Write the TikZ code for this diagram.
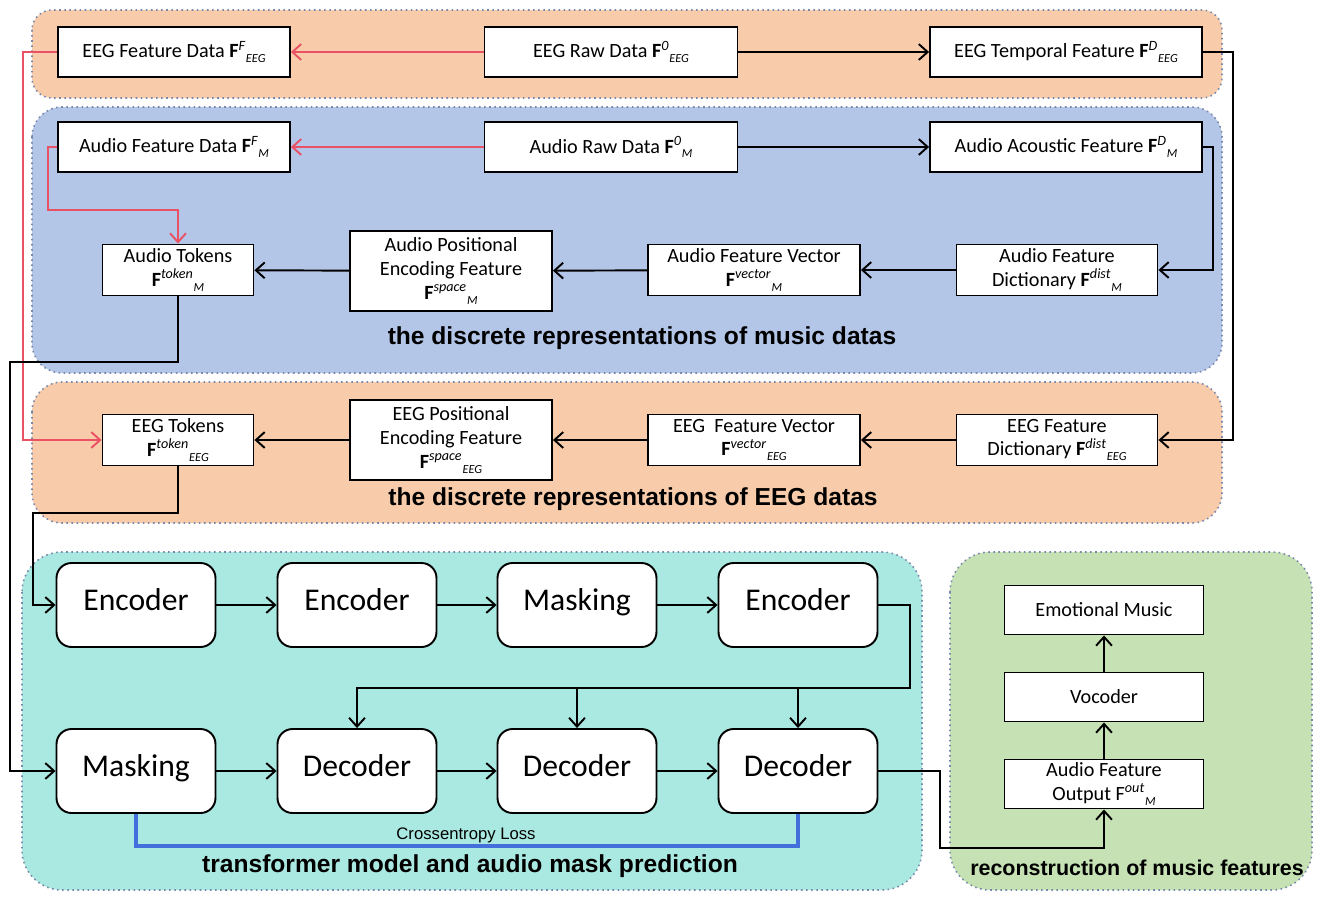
\documentclass[tikz,border=0pt]{standalone}
\usepackage{fontspec}
\setmainfont{Carlito}
\newfontfamily\titlefont{Liberation Sans}
\usetikzlibrary{arrows.meta}
\definecolor{eegfill}{RGB}{248,204,170}
\definecolor{musfill}{RGB}{180,198,232}
\definecolor{tffill}{RGB}{170,233,225}
\definecolor{recfill}{RGB}{198,226,180}
\definecolor{panelline}{RGB}{120,136,170}
\definecolor{redline}{RGB}{232,82,100}
\definecolor{lossblue}{RGB}{68,110,220}
\newcommand{\Fsym}[2]{\textbf{F}\textsuperscript{\itshape #1}\raisebox{-0.5ex}{\scriptsize\itshape #2}}
\tikzset{
    databox/.style = {rectangle, line width=1.1pt, draw=black, fill=white, align=center, inner sep=1pt, minimum height=1.0cm, font=\fontsize{11.5}{13.5}\selectfont},
    tfbox/.style = {rectangle, rounded corners=0.3cm, line width=1.1pt, draw=black, fill=white, minimum width=3.18cm, minimum height=1.68cm, text height=0.8em, text depth=0.2em, font=\fontsize{18}{20}\selectfont},
    panel/.style = {dotted, draw=panelline, line width=0.9pt},
    title/.style = {font=\titlefont\bfseries\fontsize{14}{16}\selectfont},
    edgen/.style = {-{Straight Barb[length=5pt,width=9pt]}, line width=1.1pt},
    edger/.style = {-{Straight Barb[length=5pt,width=9pt]}, line width=1.1pt, redline},
    edgeb/.style = {line width=2.3pt, lossblue}
}
\begin{document}
\begin{tikzpicture}[x=0.02cm,y=-0.02cm]
\useasboundingbox (0,0) rectangle (1325,900);
% background panels
\draw[panel, fill=eegfill, rounded corners=0.4cm] (32,10) rectangle (1222,98);
\draw[panel, fill=musfill, rounded corners=0.6cm] (32,107) rectangle (1222,373);
\draw[panel, fill=eegfill, rounded corners=0.6cm] (32,382) rectangle (1222,523);
\draw[panel, fill=tffill, rounded corners=0.8cm] (22,552) rectangle (922,890);
\draw[panel, fill=recfill, rounded corners=0.8cm] (950,552) rectangle (1312,890);

% raw data rows
\node[databox, minimum width=4.64cm] at (174,52) (efd) {EEG Feature Data \Fsym{F}{EEG}};
\node[databox, minimum width=5.06cm] at (611,52) (eraw) {EEG Raw Data \Fsym{0}{EEG}};
\node[databox, minimum width=5.44cm] at (1066,52) (etmp) {EEG Temporal Feature \Fsym{D}{EEG}};
\node[databox, minimum width=4.64cm] at (174,147) (afd) {Audio Feature Data \Fsym{F}{M}};
\node[databox, minimum width=5.06cm] at (611,147) (araw) {Audio Raw Data \Fsym{0}{M}};
\node[databox, minimum width=5.44cm] at (1066,147) (aac) {Audio Acoustic Feature \Fsym{D}{M}};

% discrete representations, music
\node[databox, minimum width=3.02cm, minimum height=1.02cm] at (178,270) (atok) {Audio Tokens\\\Fsym{token}{M}};
\node[databox, minimum width=4.04cm, minimum height=1.6cm] at (451,271) (apos) {Audio Positional\\Encoding Feature\\\Fsym{space}{M}};
\node[databox, minimum width=4.24cm, minimum height=1.02cm] at (754,270) (avec) {Audio Feature Vector\\\Fsym{vector}{M}};
\node[databox, minimum width=4.02cm, minimum height=1.02cm] at (1057,270) (adic) {Audio Feature\\Dictionary \Fsym{dist}{M}};
\node[title] at (642,338) (mtitle) {the discrete representations of music datas};

% discrete representations, EEG
\node[databox, minimum width=3.02cm, minimum height=1.02cm] at (178,440) (etok) {EEG Tokens\\\Fsym{token}{EEG}};
\node[databox, minimum width=4.04cm, minimum height=1.6cm] at (451,440) (epos) {EEG Positional\\Encoding Feature\\\Fsym{space}{EEG}};
\node[databox, minimum width=4.24cm, minimum height=1.02cm] at (754,440) (evec) {EEG\ \ Feature Vector\\\Fsym{vector}{EEG}};
\node[databox, minimum width=4.02cm, minimum height=1.02cm] at (1057,440) (edic) {EEG Feature\\Dictionary \Fsym{dist}{EEG}};
\node[title] at (633,499) (etitle) {the discrete representations of EEG datas};

% transformer
\node[tfbox] at (136,605) (enc1) {Encoder};
\node[tfbox] at (357,605) (enc2) {Encoder};
\node[tfbox] at (577,605) (mask1) {Masking};
\node[tfbox] at (798,605) (enc3) {Encoder};
\node[tfbox] at (136,771) (mask2) {Masking};
\node[tfbox] at (357,771) (dec1) {Decoder};
\node[tfbox] at (577,771) (dec2) {Decoder};
\node[tfbox] at (798,771) (dec3) {Decoder};
\node[font=\titlefont\fontsize{9.5}{11}\selectfont] at (466,835) (loss) {Crossentropy Loss};
\node[title] at (470,866) (ttitle) {transformer model and audio mask prediction};

% reconstruction
\node[databox, minimum width=3.98cm, minimum height=0.98cm] at (1104,610) (emo) {Emotional Music};
\node[databox, minimum width=3.98cm, minimum height=0.98cm] at (1104,697) (voc) {Vocoder};
\node[databox, minimum width=3.98cm, minimum height=0.98cm] at (1104,784) (aout) {Audio Feature\\Output F\textsuperscript{\itshape out}\raisebox{-0.5ex}{\scriptsize\itshape M}};
\node[title, font=\titlefont\bfseries\fontsize{12.2}{14}\selectfont] at (1137,868) (rtitle) {reconstruction of music features};

\coordinate (bus) at (910,688);
%
\draw[edger] (eraw) -- (efd);
\draw[edger] (araw) -- (afd);
\draw[edger] (efd.west) -- ++(-34,0) |- (etok.west);
\draw[edger] (afd.west) -- ++(-9,0) |- (110,210) -| (atok.north);
\draw[edgen] (eraw) -- (etmp);
\draw[edgen] (araw) -- (aac);
\draw[edgen] (etmp.east) -- ++(30,0) |- (edic.east);
\draw[edgen] (aac.east) -- ++(10,0) |- (adic.east);
\draw[edgen] (adic) -- (avec);
\draw[edgen] (avec) -- (apos);
\draw[edgen] (apos) -- (atok);
\draw[edgen] (edic) -- (evec);
\draw[edgen] (evec) -- (epos);
\draw[edgen] (epos) -- (etok);
\draw[edgen] (atok.south) |- (10,362) |- (mask2.west);
\draw[edgen] (etok.south) |- (33,513) |- (enc1.west);
\draw[edgen] (enc1) -- (enc2);
\draw[edgen] (enc2) -- (mask1);
\draw[edgen] (mask1) -- (enc3);
\draw[edgen] (enc3.east) -| (bus) -| (dec1.north);
\draw[edgen] (bus -| dec2.north) -- (dec2.north);
\draw[edgen] (bus -| dec3.north) -- (dec3.north);
\draw[edgen] (mask2) -- (dec1);
\draw[edgen] (dec1) -- (dec2);
\draw[edgen] (dec2) -- (dec3);
\draw[edgeb] (mask2.south) |- (466,846) -| (dec3.south);
\draw[edgen] (dec3.east) -| (940,848) -| (aout.south);
\draw[edgen] (aout) -- (voc);
\draw[edgen] (voc) -- (emo);
\end{tikzpicture}
\end{document}
